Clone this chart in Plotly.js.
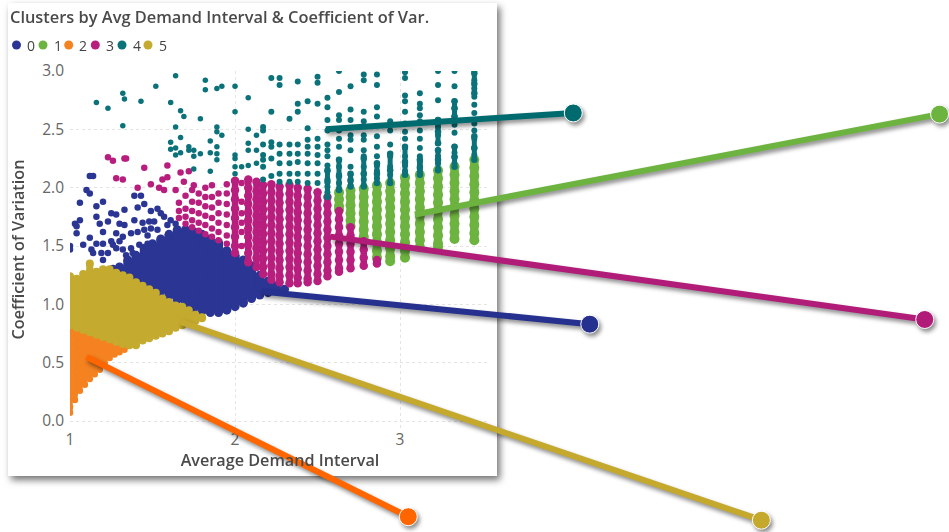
<!DOCTYPE html>
<html><head><meta charset="utf-8">
<script src="https://cdn.plot.ly/plotly-3.0.1.min.js"></script>
<style>
html,body{margin:0;padding:0;background:#fff;width:949px;height:532px;overflow:hidden}
#card{position:absolute;left:8px;top:3px;width:489px;height:473px;background:#fff;box-shadow:3px 4px 7px rgba(0,0,0,.55)}
#chart{position:absolute;left:0;top:0;width:949px;height:532px}
</style></head><body>
<div id="card"></div><div id="chart"></div>
<script>
const chartTitle = "Clusters by Avg Demand Interval & Coefficient of Var.";
const xTitle = "Average Demand Interval";
const yTitle = "Coefficient of Variation";
const clusterNames = ["0","1","2","3","4","5"];
const clusterColors = ["#2B3694","#6DB33F","#F58220","#B71E7E","#0B7279","#C4AA2E"];

// Cluster 0: scattered points and dense columns
const c0Scatter = [[1.12,2.10],[1.14,2.10],[1.10,1.98],[1.12,1.95],[1.06,1.87],[1.16,1.84],[1.20,1.88],[1.16,1.75],[1.39,1.93],[1.43,1.93],
 [1.25,1.78],[1.28,1.77],[1.33,1.81],[1.41,1.83],[1.45,1.86],[1.49,1.80],[1.53,1.82],[1.55,1.78],[1.57,1.75],[1.51,1.71],[1.39,1.72],[1.44,1.70],[1.48,1.71],[1.30,1.69],[1.33,1.68],[1.23,1.71],[1.18,1.69],[1.20,1.62],[1.04,1.67],[1.03,1.69],[1.06,1.72],[1.04,1.61],[1.12,1.57],[1.08,1.51],[1.16,1.52],[1.20,1.52],[1.25,1.54],[1.30,1.54],[1.13,1.47],[1.14,1.44],[1.19,1.44],[1.20,1.38],[1.23,1.44],[1.28,1.48],[1.32,1.58],[1.37,1.61],[1.41,1.62],[1.45,1.64],[1.49,1.65],[1.28,1.61],[1.26,1.51],[1.32,1.47],[1.37,1.48],[1.42,1.51],[1.47,1.59],[1.53,1.64],[1.59,1.68],[1.61,1.72],[1.64,1.69],[1.65,1.64],[1.47,1.52],[1.34,1.42],[1.38,1.44],[1.00,1.50],[1.00,1.47]];
const c0X = [1.26,1.30,1.35,1.40,1.45,1.50,1.55,1.60,1.65,1.70,1.75,1.80,1.85,1.90,1.95,2.00,2.05,2.10,2.15,2.20,2.25,2.30];
const c0Y = [
 [1.30,1.26],[1.32,1.28],[1.38,1.32,1.27,1.23],[1.42,1.38,1.32,1.26,1.20],
 [1.48,1.40,1.34,1.28,1.22,1.16],[1.52,1.44,1.38,1.32,1.26,1.20,1.14],
 [1.56,1.48,1.42,1.36,1.30,1.24,1.18,1.11],[1.60,1.57,1.51,1.45,1.39,1.33,1.27,1.21,1.15,1.07],
 [1.64,1.60,1.54,1.48,1.42,1.36,1.30,1.24,1.18,1.11,1.04],[1.64,1.60,1.54,1.47,1.41,1.35,1.29,1.23,1.17,1.11,1.05,1.00],
 [1.62,1.56,1.50,1.44,1.38,1.32,1.26,1.20,1.14,1.08,1.02,0.97],[1.60,1.52,1.46,1.40,1.34,1.28,1.22,1.16,1.10,1.04,0.98,0.94],
 [1.56,1.50,1.44,1.38,1.32,1.26,1.20,1.14,1.08,1.02,0.97,0.93],[1.53,1.47,1.41,1.35,1.29,1.23,1.17,1.11,1.05,0.99,0.93],
 [1.46,1.43,1.37,1.31,1.25,1.19,1.13,1.07,1.01,0.95],[1.42,1.39,1.33,1.27,1.21,1.15,1.09,1.03,0.98],
 [1.38,1.33,1.27,1.21,1.15,1.09,1.01],[1.33,1.27,1.21,1.15,1.09,1.05],[1.25,1.21,1.15,1.08],[1.20,1.15,1.10],[1.16,1.12],[1.13]];

// Cluster 1
const c1X = [2.63,2.70,2.78,2.86,2.94,3.03,3.12,3.23,3.33,3.45];
const c1Y = [
 [1.96,1.90,1.84,1.81],[1.98,1.92,1.85,1.78,1.72,1.67],
 [1.99,1.92,1.85,1.78,1.71,1.64,1.58,1.55],[2.02,1.95,1.88,1.81,1.74,1.67,1.60,1.53,1.46,1.40],
 [2.04,1.97,1.90,1.83,1.76,1.69,1.62,1.55,1.48,1.41,1.37],[2.09,2.02,1.95,1.88,1.81,1.74,1.67,1.60,1.53,1.46,1.40],
 [2.11,2.04,1.97,1.90,1.83,1.76,1.69,1.62,1.55,1.49],[2.15,2.08,2.01,1.94,1.87,1.80,1.73,1.66,1.59,1.52,1.49],
 [2.18,2.11,2.04,1.97,1.90,1.83,1.76,1.69,1.62,1.56],[2.24,2.17,2.10,2.03,1.96,1.89,1.82,1.75,1.68,1.61,1.55]];

// Cluster 2
const c2X = [1.00,1.03,1.06,1.09,1.12,1.15,1.18,1.21,1.24,1.27,1.30,1.33];
const c2Y = [
 [0.07,0.12,0.18,0.24,0.30,0.36,0.42,0.48,0.54,0.60,0.66,0.72,0.78],[0.18,0.24,0.30,0.36,0.42,0.48,0.54,0.60,0.66,0.72,0.78],
 [0.26,0.32,0.38,0.44,0.50,0.56,0.62,0.68,0.74,0.77],[0.31,0.37,0.43,0.49,0.55,0.61,0.67,0.73,0.76],
 [0.36,0.42,0.48,0.54,0.60,0.66,0.72,0.75],[0.40,0.46,0.52,0.58,0.64,0.70,0.74],[0.44,0.50,0.56,0.62,0.68,0.72],
 [0.50,0.56,0.62,0.68,0.70],[0.54,0.60,0.66,0.69],[0.57,0.63,0.67],[0.59,0.65],[0.61,0.63]];

// Cluster 3: scattered left part and dense columns
const c3Scatter = [[1.23,2.26],[1.26,2.23],[1.33,2.25],[1.34,2.25],[1.28,2.08],[1.32,2.07],[1.41,2.00],[1.45,2.17],[1.49,2.03],[1.56,2.07],[1.59,2.19],[1.59,2.09],[1.54,2.00],[1.57,1.98],[1.64,1.98],[1.67,2.13],[1.72,2.14],[1.69,2.05],[1.75,2.02],
 [1.66,1.87],[1.66,1.80],[1.66,1.74],[1.70,1.93],[1.70,1.82],[1.70,1.75],[1.70,1.69],[1.74,1.98],[1.74,1.88],[1.74,1.80],[1.74,1.72],[1.74,1.66],[1.78,1.95],[1.78,1.87],[1.78,1.78],[1.78,1.70],[1.78,1.63],
 [1.82,2.00],[1.82,1.92],[1.82,1.84],[1.82,1.76],[1.82,1.68],[1.82,1.60],[1.86,2.02],[1.86,1.92],[1.86,1.83],[1.86,1.74],[1.86,1.65],[1.86,1.58],[1.90,1.95],[1.90,1.87],[1.90,1.78],[1.90,1.70],[1.90,1.62],[1.90,1.55],
 [1.95,2.03],[1.95,1.95],[1.95,1.86],[1.95,1.77],[1.95,1.68],[1.95,1.59],[1.95,1.52],[2.04,2.04],[2.04,1.88],[2.04,1.78],[2.04,1.70],[2.04,1.62],[2.04,1.50]];
const c3X = [2.00,2.08,2.13,2.17,2.22,2.27,2.33,2.38,2.44,2.50,2.56,2.63,2.70,2.78,2.86];
const c3Y = [
 [2.06,1.98,1.90,1.82,1.74,1.66,1.58,1.50,1.44],
 [2.07,2.00,1.93,1.86,1.79,1.72,1.65,1.58,1.51,1.44,1.36],[2.05,1.97,1.90,1.83,1.76,1.69,1.62,1.55,1.48,1.40,1.32],
 [2.02,1.95,1.88,1.81,1.74,1.67,1.60,1.53,1.46,1.39,1.32,1.26],[2.03,1.96,1.89,1.82,1.75,1.68,1.61,1.54,1.47,1.40,1.33,1.26,1.21],
 [2.01,1.94,1.87,1.80,1.73,1.66,1.59,1.52,1.45,1.38,1.31,1.24,1.19],[2.02,1.95,1.88,1.81,1.74,1.67,1.60,1.53,1.46,1.39,1.32,1.25,1.18],
 [2.00,1.93,1.86,1.79,1.72,1.65,1.58,1.51,1.44,1.37,1.30,1.23,1.18],[1.99,1.92,1.85,1.78,1.71,1.64,1.57,1.50,1.43,1.36,1.29,1.22,1.19],
 [1.96,1.89,1.82,1.75,1.68,1.61,1.54,1.47,1.40,1.33,1.26,1.20],[1.92,1.85,1.78,1.71,1.64,1.57,1.50,1.43,1.36,1.29,1.24],
 [1.80,1.73,1.66,1.59,1.52,1.45,1.38,1.31,1.28],[1.66,1.59,1.52,1.45,1.38,1.31],[1.54,1.47,1.40,1.33],[1.38,1.35]];

// Cluster 4: scattered points and dense runs low in the columns
const c4Scatter = [[1.64,2.96],[1.82,2.92],[1.82,2.84],[1.89,2.85],[1.92,2.87],[2.00,2.87],[1.52,2.87],[1.32,2.81],[1.33,2.76],[1.43,2.74],[1.16,2.73],[1.23,2.68],[1.61,2.73],[1.67,2.66],[1.69,2.61],[1.79,2.59],[2.00,2.65],[2.08,2.77],[1.32,2.53],[1.64,2.52],[1.89,2.52],[1.89,2.48],[1.92,2.45],[2.08,2.50],[2.13,2.45],[1.67,2.43],[1.61,2.39],[1.85,2.40],[1.89,2.35],[2.08,2.38],[1.61,2.33],[1.64,2.34],[1.64,2.28],[1.67,2.30],[1.72,2.35],[1.72,2.32],[1.75,2.32],[1.75,2.27],[1.79,2.29],[1.85,2.30],[1.89,2.29],[1.89,2.24],[2.00,2.28],[2.00,2.25],[2.08,2.32],[2.13,2.32],[2.00,2.18],[2.04,2.18],[2.08,2.19],[2.13,2.21],[1.75,2.16],[1.85,2.14],[2.00,2.12]];
const c4X = [2.17,2.22,2.27,2.33,2.38,2.44,2.50,2.56,2.63,2.70,2.78,2.86,2.94,3.03,3.12,3.23,3.33,3.45];
const c4Y = [
 [2.52,2.49,2.37,2.28,2.24,2.18,2.07],[2.94,2.65,2.39,2.35,2.25,2.10],[2.94,2.88,2.37,2.29,2.21,2.12,2.05],[2.59,2.37,2.29,2.21,2.12,2.05],
 [2.91,2.72,2.65,2.37,2.29,2.22,2.12,2.05],[2.74,2.51,2.41,2.35,2.29,2.21,2.12,2.04],[2.95,2.90,2.72,2.42,2.35,2.28,2.21,2.12,2.04],
 [2.77,2.69,2.58,2.49,2.37,2.32,2.27,2.19,2.14,2.07,2.01,1.96],[3.00,2.82,2.62,2.58,2.49,2.42,2.35,2.24,2.18,2.11,2.04,1.99],
 [2.87,2.67,2.58,2.45,2.41,2.32,2.18,2.11,2.07,2.02],[2.97,2.92,2.65,2.57,2.45,2.41,2.32,2.27,2.18,2.12,2.07,2.02],
 [2.97,2.88,2.69,2.61,2.44,2.35,2.27,2.19,2.14,2.08],[2.57,2.49,2.37,2.27,2.18,2.11],
 [2.99,2.94,2.79,2.74,2.65,2.55,2.48,2.42,2.34,2.27,2.22,2.19,2.14],[2.81,2.72,2.68,2.62,2.57,2.49,2.42,2.34,2.27,2.22,2.19,2.14],
 [3.00,2.88,2.75,2.58,2.55,2.52,2.45,2.38,2.32,2.27,2.21],[3.00,2.87,2.74,2.68,2.61,2.54,2.47,2.35,2.30,2.27,2.21],
 [3.00,2.92,2.85,2.78,2.71,2.64,2.58,2.55,2.49,2.42,2.34,2.28]];
const c4RunX = [2.56,2.63,2.70,2.78,2.86,2.94,3.03,3.12,3.23,3.23,3.33,3.33,3.45,3.45];
const c4RunY = [
 [2.15,2.05,1.92],[2.24,2.10,1.98],[2.12,2.06,2.01],[2.25,2.12,2.01],[2.21,2.12,2.04],[2.29,2.15,2.04],[2.35,2.22,2.11],
 [2.24,2.17,2.11],[2.58,2.48,2.38],[2.32,2.24,2.15],[2.74,2.68,2.61],[2.35,2.26,2.18],[2.98,2.89,2.81],[2.44,2.34,2.24]];

// Cluster 5
const c5X = [1.00,1.04,1.08,1.12,1.16,1.20,1.24,1.28,1.32,1.36,1.40,1.44,1.48,1.52,1.56,1.60,1.64,1.68,1.72,1.76,1.80];
const c5Y = [
 [0.82,0.88,0.94,1.00,1.06,1.12,1.18,1.24],[0.80,0.86,0.92,0.98,1.04,1.10,1.16,1.22],[0.78,0.84,0.90,0.96,1.02,1.08,1.14,1.20,1.26],
 [0.76,0.82,0.88,0.94,1.00,1.06,1.12,1.18,1.24,1.28,1.35],[0.74,0.80,0.86,0.92,0.98,1.04,1.10,1.16,1.22,1.28],
 [0.72,0.78,0.84,0.90,0.96,1.02,1.08,1.14,1.20,1.26,1.30],[0.70,0.76,0.82,0.88,0.94,1.00,1.06,1.12,1.18,1.24,1.30],
 [0.68,0.74,0.80,0.86,0.92,0.98,1.04,1.10,1.16,1.22,1.27],[0.66,0.72,0.78,0.84,0.90,0.96,1.02,1.08,1.14,1.20,1.25],
 [0.65,0.71,0.77,0.83,0.89,0.95,1.01,1.07,1.13,1.19,1.23],[0.65,0.71,0.77,0.83,0.89,0.95,1.01,1.07,1.13,1.19],
 [0.69,0.75,0.81,0.87,0.93,0.99,1.05,1.11,1.16],[0.71,0.77,0.83,0.89,0.95,1.01,1.07,1.13],[0.73,0.79,0.85,0.91,0.97,1.03,1.10],
 [0.75,0.81,0.87,0.93,0.99,1.05],[0.77,0.83,0.89,0.95,1.02],[0.80,0.86,0.92,0.99],[0.82,0.88,0.94,0.98],[0.85,0.90,0.95],[0.86,0.91],[0.88,0.89]];

// Callout leader lines [x start, x end], [y start, y end], same units as the chart axes
const calloutNames = ["4","1","3","0","5","2"];
const calloutX = [[2.55,4.05],[3.09,6.27],[2.58,6.18],[2.16,4.15],[1.67,5.19],[1.10,3.05]];
const calloutY = [[2.50,2.64],[1.77,2.63],[1.58,0.87],[1.11,0.83],[0.85,-0.85],[0.55,-0.82]];
const calloutColors = ["#006B6E","#6DB33F","#B01C78","#25308F","#C4A92D","#FF6600"];

const xTicks = [1,2,3];
const yTicks = [0,0.5,1,1.5,2,2.5,3];

function columns(xs, rows){
  const x=[], y=[];
  xs.forEach((v,i)=>{rows[i].forEach(w=>{x.push(v);y.push(w);}); x.push(null); y.push(null);});
  return {x,y};
}
function mk(i,d,size,lw){
  return {type:"scatter",mode:lw?"lines+markers":"markers",name:clusterNames[i],x:d.x,y:d.y,connectgaps:false,
    marker:{color:clusterColors[i],size:size,line:{width:0}},line:{color:clusterColors[i],width:lw||0},showlegend:false,hoverinfo:"x+y+name"};
}
const pts = a=>({x:a.map(p=>p[0]),y:a.map(p=>p[1])});
const traces = [
  mk(0,pts(c0Scatter),6.5), mk(0,columns(c0X,c0Y),9,9),
  mk(1,columns(c1X,c1Y),10,8.5),
  mk(2,columns(c2X,c2Y),6.5,5.5),
  mk(3,pts(c3Scatter),6.5), mk(3,columns(c3X,c3Y),8.5,6.5),
  mk(4,pts(c4Scatter),5.5), mk(4,columns(c4X,c4Y),6), mk(4,columns(c4RunX,c4RunY),6.5,5),
  mk(5,columns(c5X,c5Y),8,7)
];
calloutX.forEach((xs,i)=>traces.push({type:"scatter",mode:"lines+markers",xaxis:"x2",yaxis:"y2",name:"callout "+calloutNames[i],x:xs,y:calloutY[i],
  line:{color:calloutColors[i],width:6},marker:{color:calloutColors[i],opacity:1,size:[0,18]},showlegend:false,hoverinfo:"skip"}));

const CW=949,CH=532;
const legendDotX=[16.5,43,68.7,95.3,122,148], legendY=45;
const shapes=clusterNames.map((n,i)=>({type:"circle",xref:"paper",yref:"paper",xsizemode:"pixel",ysizemode:"pixel",
  xanchor:legendDotX[i]/CW,yanchor:1-legendY/CH,x0:-4.5,x1:4.5,y0:-4.5,y1:4.5,fillcolor:clusterColors[i],line:{width:0}}));
const annotations=clusterNames.map((n,i)=>({xref:"paper",yref:"paper",x:(legendDotX[i]+8.5)/CW,y:1-46/CH,text:n,showarrow:false,
  xanchor:"left",yanchor:"middle",font:{family:"Open Sans",size:14,color:"#444"}}));
const hidden={visible:false,showgrid:false,zeroline:false,domain:[0,1],fixedrange:true};

const layout={width:CW,height:CH,paper_bgcolor:"rgba(0,0,0,0)",plot_bgcolor:"rgba(0,0,0,0)",showlegend:false,
  margin:{l:0,t:0,r:0,b:0,pad:0},
  title:{text:chartTitle,x:10/CW,xref:"container",xanchor:"left",y:1-17/CH,yref:"container",yanchor:"middle",font:{family:"Open Sans",size:16.4,color:"#4a4a4a",weight:600}},
  xaxis:{domain:[70/CW,490/CW],range:[1,3.545],tickvals:xTicks,ticktext:xTicks.map(String),showline:false,zeroline:false,gridcolor:"#e4e4e4",griddash:"dot",gridwidth:1,ticks:"",
    tickfont:{family:"Open Sans",size:15.5,color:"#666"},title:{text:xTitle,standoff:6,font:{family:"Open Sans",size:16.2,color:"#4a4a4a",weight:600}}},
  yaxis:{domain:[1-428/CH,1-71/CH],range:[-0.06,3],tickvals:yTicks,tickformat:".1f",showline:false,zeroline:false,gridcolor:"#e4e4e4",griddash:"dot",gridwidth:1,ticks:"",ticklabelstandoff:5,
    tickfont:{family:"Open Sans",size:15.5,color:"#666"},title:{text:yTitle,standoff:13,font:{family:"Open Sans",size:16.2,color:"#4a4a4a",weight:600}}},
  xaxis2:Object.assign({anchor:"y2",range:[0.5758,6.327]},hidden),
  yaxis2:Object.assign({anchor:"x2",range:[-0.951,3.608]},hidden),
  shapes,annotations};

Plotly.newPlot("chart",traces,layout,{displayModeBar:false}).then(()=>{
  document.querySelectorAll("#chart .xy .scatterlayer").forEach(g=>{ g.style.filter="blur(0.5px)"; });
  document.querySelectorAll("#chart .x2y2 .scatterlayer .trace").forEach(g=>{
    g.style.filter="drop-shadow(2px 3px 2px rgba(0,0,0,.45))";
  });
});
</script>
</body></html>
